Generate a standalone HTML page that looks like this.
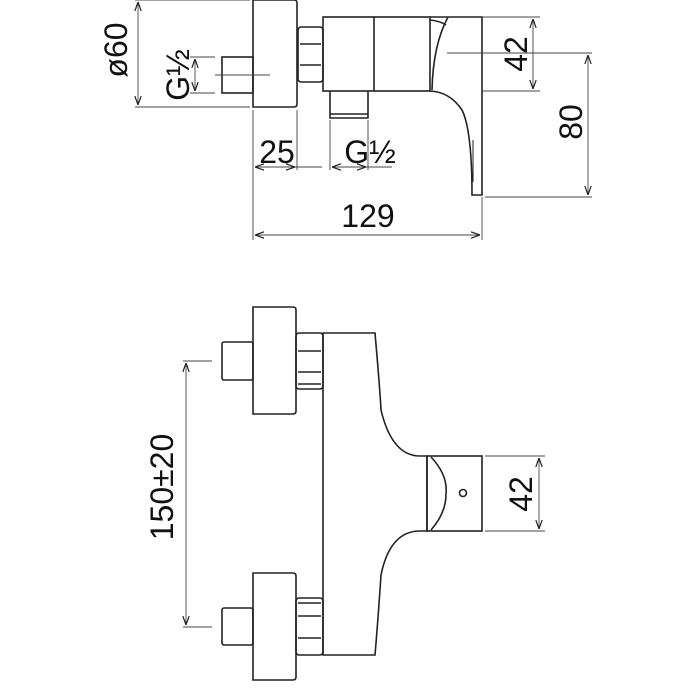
<!DOCTYPE html>
<html><head><meta charset="utf-8"><style>html,body{margin:0;padding:0;background:#fff}svg{display:block}text{font-family:"Liberation Sans",sans-serif;font-size:32px;fill:#111}</style></head>
<body>
<svg width="688" height="688" viewBox="0 0 688 688" xmlns="http://www.w3.org/2000/svg">
<defs>
<marker id="a" viewBox="0 0 10 10" refX="10" refY="5" markerWidth="9" markerHeight="9" orient="auto-start-reverse" markerUnits="userSpaceOnUse"><path d="M0,1.5 L10,5 L0,8.5" fill="none" stroke="#222" stroke-width="1.3"/></marker>
</defs>
<g fill="none" stroke="#222" stroke-width="1.6">
<!-- TOP VIEW -->
<path d="M253,0 H294 Q297,0 297,3 V104 Q297,107 294,107 H253 Z"/>
<rect x="222" y="57" width="31" height="36"/>
<rect x="298" y="27" width="25" height="55" rx="3"/>
<path d="M300,44 H321 M300,65 H321"/>
<rect x="323" y="17" width="107" height="74"/>
<path d="M374,17 V91"/>
<path d="M330,91 V118 H368 V91 M330,114 H368"/>
<path d="M430,17 H482 V195 H472 Q472,130 462,110 Q450,92 430,91"/>
<path d="M448,17 Q433,45 432,90 M430,20 Q440,21 446,25"/>
<path d="M473,140 V182" stroke-width="1"/>
</g>
<g fill="none" stroke="#444" stroke-width="0.9">
<path d="M215,75 H270 M447,53 H592"/>
<path d="M135,0 H250 M135,107 H250 M190,57 H215 M190,93 H215"/>
<path d="M482,17 H540 M482,91 H540 M485,197 H592"/>
<path d="M253,110 V240 M297,110 V170 M330,120 V170 M368,120 V170 M482,197 V240"/>
<path d="M138,2 V105" marker-start="url(#a)" marker-end="url(#a)"/>
<path d="M195,59 V91" marker-start="url(#a)" marker-end="url(#a)"/>
<path d="M533,19 V89" marker-start="url(#a)" marker-end="url(#a)"/>
<path d="M588,55 V195" marker-start="url(#a)" marker-end="url(#a)"/>
<path d="M255,167 H295" marker-start="url(#a)" marker-end="url(#a)"/>
<path d="M295,167 H322"/>
<path d="M332,167 H366" marker-start="url(#a)" marker-end="url(#a)"/>
<path d="M366,167 H392"/>
<path d="M255,235 H480" marker-start="url(#a)" marker-end="url(#a)"/>
</g>
<text x="277" y="163" text-anchor="middle">25</text>
<text x="370" y="163" text-anchor="middle">G½</text>
<text x="368" y="227" text-anchor="middle">129</text>
<text transform="translate(127,50) rotate(-90)" text-anchor="middle">ø60</text>
<text transform="translate(189,75) rotate(-90)" text-anchor="middle">G½</text>
<text transform="translate(527,54) rotate(-90)" text-anchor="middle">42</text>
<text transform="translate(582,122) rotate(-90)" text-anchor="middle">80</text>
<!-- FRONT VIEW -->
<g fill="none" stroke="#222" stroke-width="1.6">
<path d="M253,307 H293 Q296,307 296,310 V411 Q296,414 293,414 H253 Z"/>
<rect x="222" y="342" width="31" height="38" rx="2"/>
<rect x="296" y="333" width="27" height="56" rx="3"/>
<path d="M298,351 H321 M298,372 H321 M298,384 H321"/>
<path d="M253,573 H293 Q296,573 296,576 V677 Q296,680 293,680 H253 Z"/>
<rect x="222" y="608" width="31" height="37" rx="2"/>
<rect x="296" y="598" width="27" height="57" rx="3"/>
<path d="M298,603 H321 M298,616 H321 M298,638 H321"/>
<path d="M323,333 H375 Q380,390 381,410 Q392,456 420,456 H427 V531 H420 Q390,531 381,575 Q378,620 375,655 H323 Z"/>
<rect x="427" y="456" width="55" height="75"/>
<path d="M431,457 Q448,475 446,494 Q446,513 431,530"/>
<circle cx="463" cy="493" r="3.5"/>
</g>
<g fill="none" stroke="#444" stroke-width="0.9">
<path d="M183,361 H212 M183,627 H212 M485,456 H545 M485,531 H545"/>
<path d="M186,363 V625" marker-start="url(#a)" marker-end="url(#a)"/>
<path d="M539,458 V529" marker-start="url(#a)" marker-end="url(#a)"/>
</g>
<text transform="translate(173,487) rotate(-90)" text-anchor="middle">150±20</text>
<text transform="translate(532,494) rotate(-90)" text-anchor="middle">42</text>
</svg>
</body></html>
